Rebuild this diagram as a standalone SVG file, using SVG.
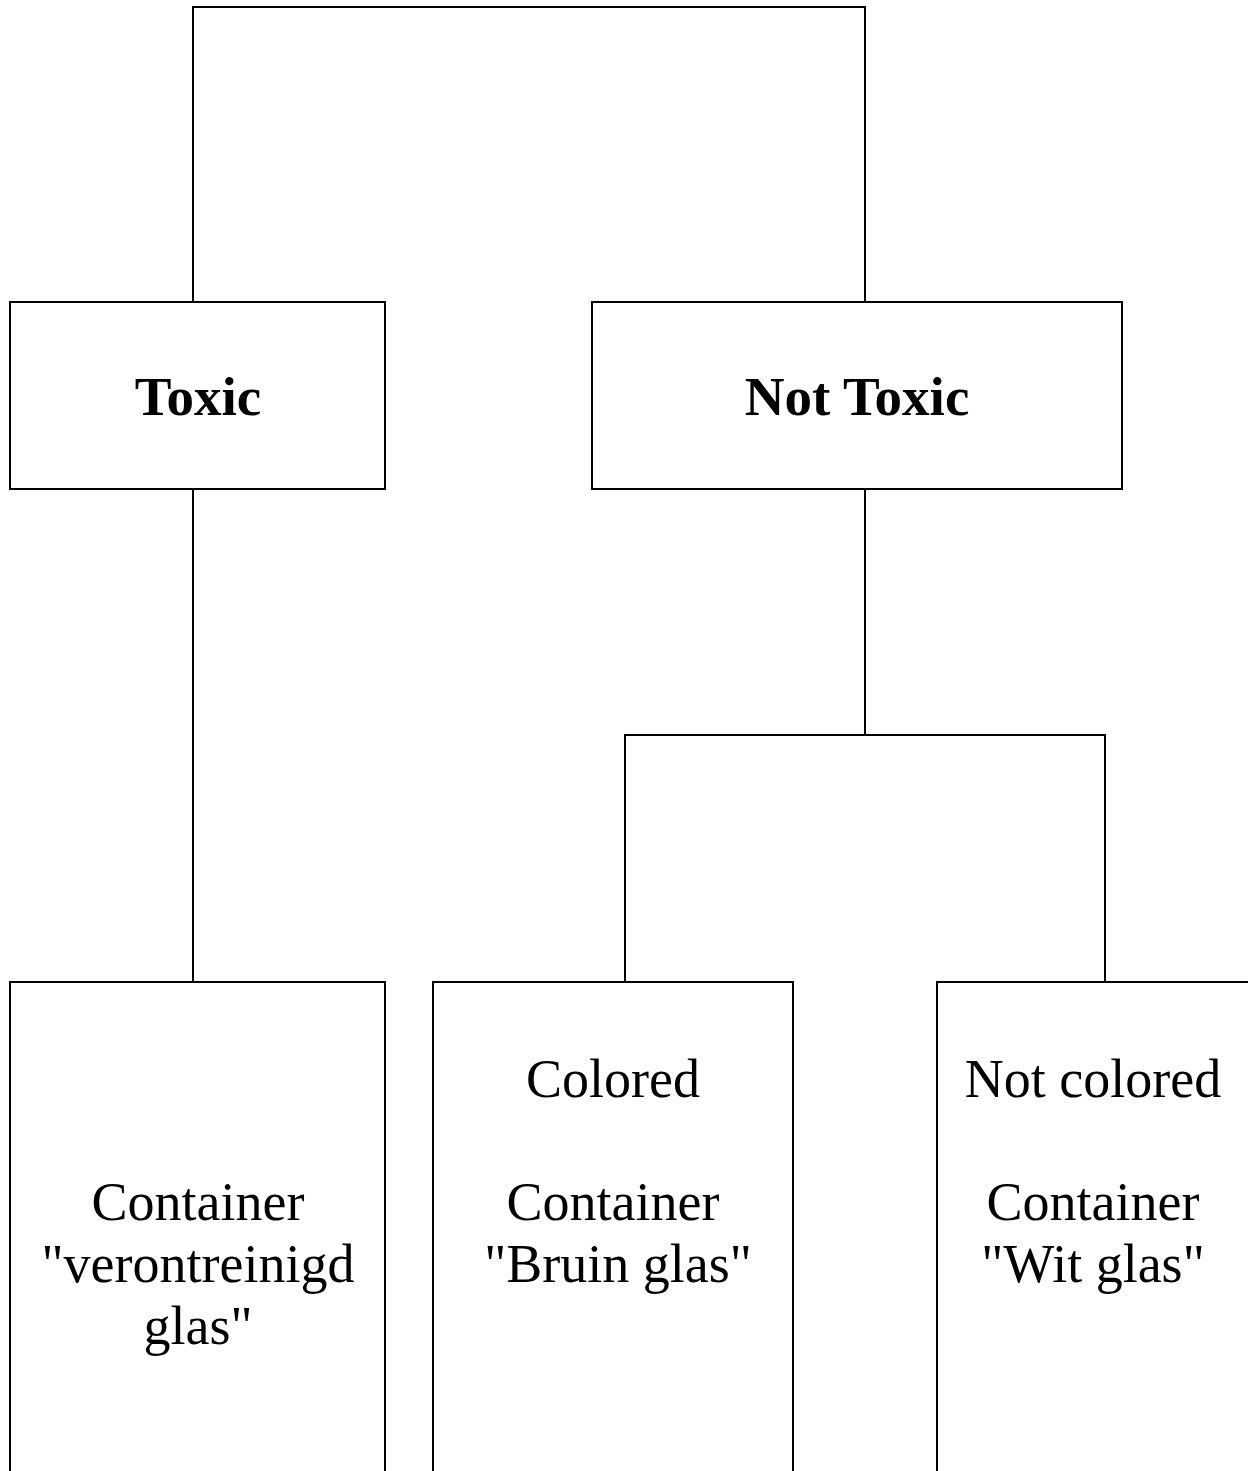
<svg xmlns="http://www.w3.org/2000/svg" width="1248" height="1471" viewBox="0 0 1248 1471">
<style>
.box{fill:#fff;stroke:#000;stroke-width:2}
.con{fill:none;stroke:#000;stroke-width:2}
.h{font-family:"Liberation Serif","Times New Roman",serif;font-weight:bold;font-size:55px;text-anchor:middle;fill:#000}
.t{font-family:"Liberation Serif","Times New Roman",serif;font-size:54px;text-anchor:middle;fill:#000}
</style>
<rect width="1248" height="1471" fill="#fff"/>
<g id="connectors">
<path class="con" d="M193,302 V7 H865 V302"/>
<path class="con" d="M193,489 V982"/>
<path class="con" d="M865,489 V735"/>
<path class="con" d="M625,982 V735 H1105 V982"/>
</g>
<g id="toxic">
<rect class="box" x="10" y="302" width="375" height="187"/>
<text class="h" x="198" y="415">Toxic</text>
</g>
<g id="not-toxic">
<rect class="box" x="592" y="302" width="530" height="187"/>
<text class="h" x="857" y="415">Not Toxic</text>
</g>
<g id="verontreinigd">
<rect class="box" x="10" y="982" width="375" height="520"/>
<text class="t" x="198" y="1220">Container</text>
<text class="t" x="198" y="1282">"verontreinigd</text>
<text class="t" x="198" y="1344">glas"</text>
</g>
<g id="bruin">
<rect class="box" x="433" y="982" width="360" height="520"/>
<text class="t" x="613" y="1097">Colored</text>
<text class="t" x="613" y="1220">Container</text>
<text class="t" x="618" y="1282">"Bruin glas"</text>
</g>
<g id="wit">
<rect class="box" x="937" y="982" width="340" height="520"/>
<text class="t" x="1093" y="1097">Not colored</text>
<text class="t" x="1093" y="1220">Container</text>
<text class="t" x="1093" y="1282">"Wit glas"</text>
</g>
</svg>
